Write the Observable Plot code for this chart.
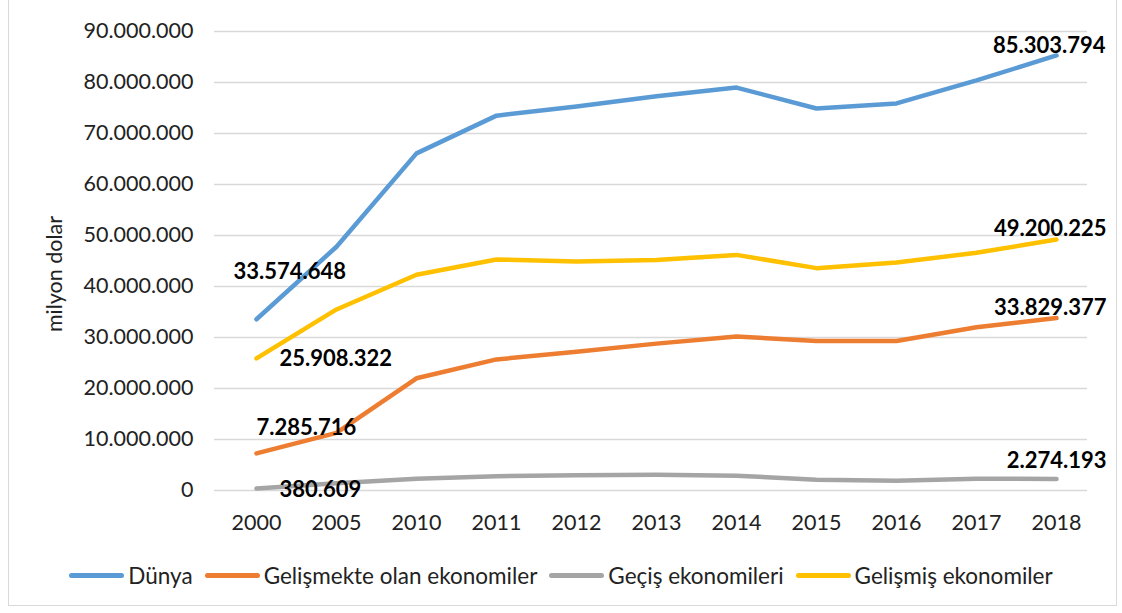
<!DOCTYPE html>
<html>
<head>
<meta charset="utf-8">
<script src="https://cdn.jsdelivr.net/npm/d3@7"></script>
<script src="https://cdn.jsdelivr.net/npm/@observablehq/plot@0.6"></script>
<style>
  html, body { margin: 0; padding: 0; background: #fff; }
  #wrap { position: relative; width: 1122px; height: 613px; overflow: hidden; font-family: Lato, "DejaVu Sans", sans-serif; }
  #border { position: absolute; left: 8px; top: -2px; width: 1109px; height: 608px; border: 1px solid #D9D9D9; box-sizing: border-box; }
  #chart { position: absolute; left: 0; top: 0; }
  #legend { position: absolute; left: 0; top: 561px; width: 1122px; height: 28px; display: flex; justify-content: center; align-items: center; font-size: 22.5px; color: #222; }
  .item { display: flex; align-items: center; margin: 0 6px; }
  .sw { width: 55px; height: 5px; border-radius: 3px; margin-right: 4px; }
</style>
</head>
<body>
<div id="wrap">
  <div id="border"></div>
  <div id="chart"></div>
  <div id="legend"></div>
</div>
<script>
const years = ["2000","2005","2010","2011","2012","2013","2014","2015","2016","2017","2018"];
const seriesNames = ["Dünya","Gelişmekte olan ekonomiler","Geçiş ekonomileri","Gelişmiş ekonomiler"];
const seriesColors = ["#5B9BD5","#ED7D31","#A5A5A5","#FFC000"];
const dunya      = [33574648, 47800000, 66100000, 73500000, 75300000, 77300000, 79000000, 74900000, 75900000, 80400000, 85303794];
const gelismekte = [7285716, 11300000, 22000000, 25700000, 27200000, 28800000, 30200000, 29300000, 29300000, 32000000, 33829377];
const gecis      = [380609, 1400000, 2300000, 2800000, 3000000, 3100000, 2900000, 2100000, 1900000, 2300000, 2274193];
const gelismis   = [25908322, 35500000, 42300000, 45300000, 44900000, 45200000, 46200000, 43600000, 44700000, 46600000, 49200225];

const valuesBySeries = [dunya, gelismekte, gecis, gelismis];
const data = seriesNames.flatMap((s, k) => years.map((y, i) => ({year: y, value: valuesBySeries[k][i], series: s})));

const fmt = v => d3.format(",")(v).replace(/,/g, ".");

// label placement (style only): [series index, year index, dx, dy, anchor]
const labelSpecs = [
  [0, 0, -23, -47, "start"],
  [3, 0, 23, 1, "start"],
  [1, 0, 0, -25, "start"],
  [2, 0, 23, 1, "start"],
  [0, 10, 49, -9, "end"],
  [3, 10, 50, -11, "end"],
  [1, 10, 50, -10, "end"],
  [2, 10, 50, -18, "end"]
];

const labelMarks = labelSpecs.map(([k, i, dx, dy, anchor]) =>
  Plot.text([{year: years[i], value: valuesBySeries[k][i]}], {
    x: "year", y: "value", text: d => fmt(d.value),
    dx, dy, textAnchor: anchor, fontWeight: "bold", fontSize: 22, fill: "#000"
  })
);

const chart = Plot.plot({
  width: 1122,
  height: 545,
  marginTop: 31,
  marginBottom: 55,
  marginLeft: 214,
  marginRight: 35,
  x: {type: "point", domain: years, range: [254, 1058], padding: 0, label: null},
  y: {domain: [0, 90000000], label: null},
  color: {domain: seriesNames, range: seriesColors},
  style: {fontFamily: "Lato, 'DejaVu Sans', sans-serif", fontSize: "21px", color: "#222", background: "transparent"},
  marks: [
    Plot.gridY({ticks: 10, stroke: "#D9D9D9", strokeOpacity: 1, strokeWidth: 1.3}),
    Plot.axisY({ticks: 10, tickFormat: fmt, tickSize: 0, tickPadding: 21, label: null, fontSize: 21.5}),
    Plot.axisX({tickSize: 0, tickPadding: 24, label: null, fontSize: 21.5}),
    Plot.line(data, {x: "year", y: "value", stroke: "series", z: "series", strokeWidth: 4.5, strokeLinecap: "round", strokeLinejoin: "round"}),
    ...labelMarks,
    Plot.text(["milyon dolar"], {frameAnchor: "left", textAnchor: "middle", rotate: -90, dx: -159, dy: 13, fontSize: 21.5, fill: "#222"})
  ]
});
document.getElementById("chart").appendChild(chart);

const legend = document.getElementById("legend");
seriesNames.forEach((name, k) => {
  const item = document.createElement("div");
  item.className = "item";
  const sw = document.createElement("div");
  sw.className = "sw";
  sw.style.background = seriesColors[k];
  const t = document.createElement("span");
  t.textContent = name;
  item.appendChild(sw);
  item.appendChild(t);
  legend.appendChild(item);
});
</script>
</body>
</html>
